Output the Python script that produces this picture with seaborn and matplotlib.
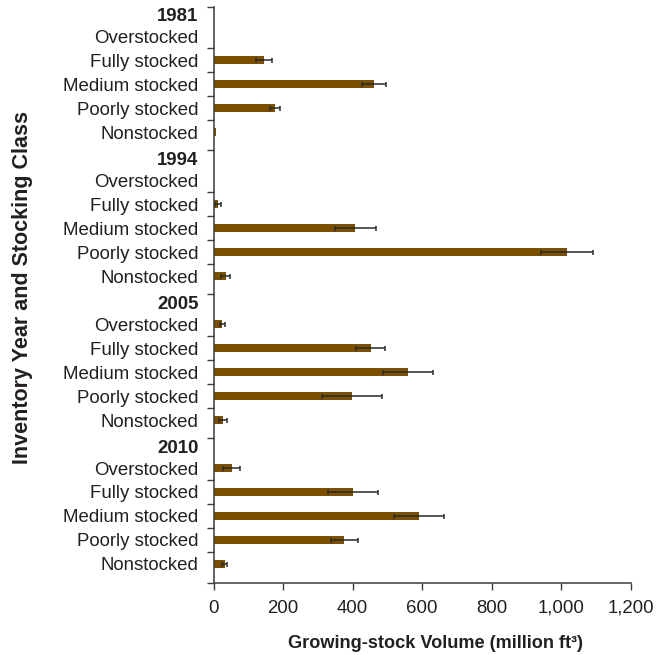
import matplotlib
matplotlib.use("Agg")
import matplotlib.pyplot as plt
from matplotlib.ticker import FuncFormatter
import numpy as np
import pandas as pd
import seaborn as sns

# ---- data ----
years = ["1981", "1994", "2005", "2010"]
classes = ["Overstocked", "Fully stocked", "Medium stocked", "Poorly stocked", "Nonstocked"]
vol_1981 = [0, 145, 462, 177, 6]
err_1981 = [0, 22, 34, 14, 0]
vol_1994 = [0, 12, 408, 1017, 35]
err_1994 = [0, 9, 60, 76, 13]
vol_2005 = [24, 452, 560, 398, 26]
err_2005 = [7, 42, 72, 86, 12]
vol_2010 = [52, 401, 590, 376, 31]
err_2010 = [24, 73, 72, 39, 6]
x_ticks = [0, 200, 400, 600, 800, 1000, 1200]

vols = [vol_1981, vol_1994, vol_2005, vol_2010]
errs = [err_1981, err_1994, err_2005, err_2010]

rows = []
for g, yr in enumerate(years):
    for c, cls in enumerate(classes):
        rows.append({"year": yr, "cls": cls, "pos": 6 * g + 1 + c,
                     "volume": vols[g][c], "err": errs[g][c]})
df = pd.DataFrame(rows)

sns.set_theme(style="ticks")
plt.rcParams["font.family"] = ["Liberation Sans", "DejaVu Sans"]
TXT = "#231f20"
AX = "#3c3c3c"
BAR = "#7A5000"

fig = plt.figure(figsize=(6.69, 6.55), dpi=100)
ax = fig.add_axes([0.3195, 0.110, 0.9427 - 0.3195, 0.9893 - 0.110])

sns.barplot(data=df, x="volume", y="pos", orient="h", native_scale=True,
            color=BAR, saturation=1, width=0.34, errorbar=None,
            linewidth=0, ax=ax)

e = df[df["err"] > 0]
ax.errorbar(e["volume"], e["pos"], xerr=e["err"], fmt="none",
            ecolor="#2a2a2a", elinewidth=1.1, capsize=1.8, capthick=1.1)

# axes limits
ax.set_xlim(0, 1200)
ax.set_ylim(23.79, -0.21)

# y labels: class names as tick labels, year headers as bold annotations
positions = list(df["pos"])
ax.set_yticks(positions)
ax.set_yticklabels(list(df["cls"]))
for lab in ax.get_yticklabels():
    lab.set_color(TXT)
    lab.set_fontsize(13.4)
ax.tick_params(axis="y", which="major", length=0, pad=11)

for g, yr in enumerate(years):
    ax.annotate(yr, xy=(0, 6 * g), xycoords=("axes fraction", "data"),
                xytext=(-11, -3), textcoords="offset points",
                ha="right", va="center", fontsize=13.4, fontweight="bold",
                color=TXT, annotation_clip=False)

minor = [-0.21]
for g in range(4):
    minor += [6 * g + 1.5, 6 * g + 2.5, 6 * g + 3.5, 6 * g + 4.5, 6 * g + 5.75]
minor[-1] = 23.79
ax.set_yticks(minor, minor=True)
ax.tick_params(axis="y", which="minor", length=5, width=1, color=AX, direction="out")

# x axis
ax.set_xticks(x_ticks)
ax.xaxis.set_major_formatter(FuncFormatter(lambda v, p: f"{int(v):,}"))
ax.tick_params(axis="x", length=5, width=1, color=AX, direction="out",
               labelsize=13.4, labelcolor=TXT, pad=7)

for s in ["top", "right"]:
    ax.spines[s].set_visible(False)
for s in ["left", "bottom"]:
    ax.spines[s].set_color(AX)
    ax.spines[s].set_linewidth(1.1)

ax.set_xlabel("Growing-stock Volume (million ft³)", fontsize=13.1,
              fontweight="bold", color=TXT, labelpad=13)
ax.xaxis.label.set_x(0.532)
ax.set_ylabel("")
fig.text(0.034, 0.561, "Inventory Year and Stocking Class", rotation=90,
         fontsize=15.5, fontweight="bold", color=TXT, ha="center", va="center")

fig.savefig("out.png", dpi=100)
